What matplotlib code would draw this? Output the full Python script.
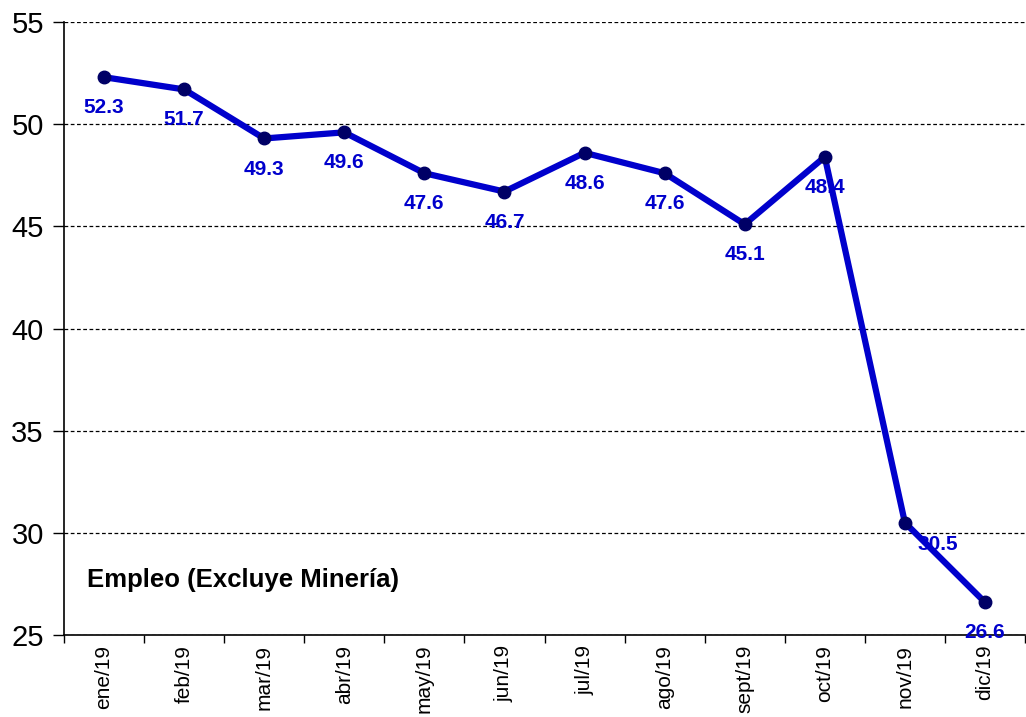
import matplotlib
matplotlib.use("Agg")
import matplotlib.pyplot as plt
from matplotlib.ticker import FixedLocator, NullFormatter

months = ["ene/19", "feb/19", "mar/19", "abr/19", "may/19", "jun/19",
          "jul/19", "ago/19", "sept/19", "oct/19", "nov/19", "dic/19"]
values = [52.3, 51.7, 49.3, 49.6, 47.6, 46.7, 48.6, 47.6, 45.1, 48.4, 30.5, 26.6]
yticks = [25, 30, 35, 40, 45, 50, 55]
title_text = "Empleo (Excluye Minería)"

plt.rcParams['font.family'] = ['Liberation Sans', 'DejaVu Sans']

fig = plt.figure(figsize=(10.26, 7.17), dpi=100)
ax = fig.add_axes([64/1026, 1-635/717, (1025-64)/1026, (635-22)/717])

x = list(range(len(months)))
ax.plot(x, values, color="#0000CC", lw=4.5, marker="o", markersize=9,
        markerfacecolor="#000066", markeredgecolor="#000066", zorder=3, clip_on=False)

for i, v in enumerate(values):
    if months[i] == "nov/19":
        off = (24, -16)
    else:
        off = (0, -22)
    ax.annotate(f"{v:.1f}", (i, v), xytext=off, textcoords="offset points",
                ha="center", va="center", fontsize=15, fontweight="bold",
                color="#0000CC", zorder=4, annotation_clip=False)

ax.set_xlim(-0.5, len(months) - 0.5)
ax.set_ylim(25, 55)
ax.set_yticks(yticks)
ax.set_yticklabels([str(t) for t in yticks], fontsize=21)
ax.tick_params(axis="y", direction="out", length=8, width=1, pad=6.5)

ax.set_xticks(x)
ax.set_xticklabels(months, rotation=90, fontsize=15)
ax.tick_params(axis="x", which="major", length=0, pad=7)
ax.xaxis.set_minor_locator(FixedLocator([i - 0.5 for i in range(len(months) + 1)]))
ax.xaxis.set_minor_formatter(NullFormatter())
ax.tick_params(axis="x", which="minor", direction="out", length=6, width=1)

ax.grid(axis="y", color="black", linestyle=(0, (3, 2)), linewidth=0.9)
ax.set_axisbelow(True)
for s in ["top", "right"]:
    ax.spines[s].set_visible(False)
for s in ["left", "bottom"]:
    ax.spines[s].set_color("black")
    ax.spines[s].set_linewidth(1.2)

ax.text(87/1026, 1-580/717, title_text, transform=fig.transFigure,
        fontsize=18.5, fontweight="bold", ha="left", va="center")

fig.savefig("out.png", dpi=100)
